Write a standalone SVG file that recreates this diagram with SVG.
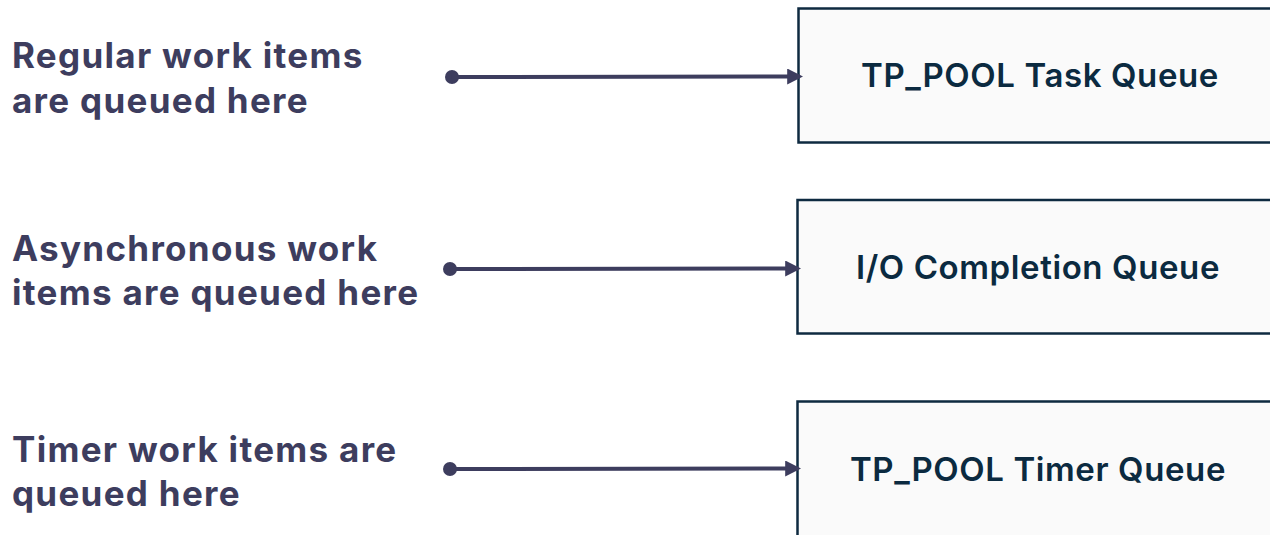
<svg xmlns="http://www.w3.org/2000/svg" width="1270" height="535" viewBox="0 0 1270 535">
<style>
.lbl{font-family:Inter,"Liberation Sans",sans-serif;font-weight:700;font-size:35px;fill:#3d3d5e;letter-spacing:1.3px}
.box{fill:#fafafa;stroke:#0e2a40;stroke-width:2.5}
.bt{font-family:Inter,"Liberation Sans",sans-serif;font-weight:600;font-size:33px;fill:#0b2a40;text-anchor:middle;letter-spacing:0.6px}
.con{stroke:#3d3d5e;stroke-width:4;fill:none}
</style>
<defs>
<marker id="ah" markerWidth="4" markerHeight="4" refX="3.2" refY="2" orient="auto" markerUnits="strokeWidth">
<path d="M0,0 L4,2 L0,4 Z" fill="#3d3d5e"/>
</marker>
</defs>
<rect width="1270" height="535" fill="#ffffff"/>
<g id="label1"><text class="lbl" x="12" y="68">Regular work items</text><text class="lbl" x="12" y="113">are queued here</text></g>
<g id="label2"><text class="lbl" x="12" y="261">Asynchronous work</text><text class="lbl" x="12" y="305">items are queued here</text></g>
<g id="label3"><text class="lbl" x="12" y="462">Timer work items are</text><text class="lbl" x="12" y="506">queued here</text></g>
<g id="node1"><rect class="box" x="798.5" y="8.5" width="480" height="134"/><text class="bt" x="1040" y="87">TP_POOL Task Queue</text></g>
<g id="node2"><rect class="box" x="797.5" y="200" width="480" height="133.5"/><text class="bt" x="1038" y="279">I/O Completion Queue</text></g>
<g id="node3"><rect class="box" x="797.5" y="401.5" width="480" height="150"/><text class="bt" x="1038" y="481">TP_POOL Timer Queue</text></g>
<g id="connectors">
<circle cx="452" cy="77" r="7" fill="#3d3d5e"/>
<line class="con" x1="452" y1="77" x2="800" y2="76.5" marker-end="url(#ah)"/>
<circle cx="450" cy="269" r="7" fill="#3d3d5e"/>
<line class="con" x1="450" y1="269" x2="798" y2="268.5" marker-end="url(#ah)"/>
<circle cx="450" cy="469" r="7" fill="#3d3d5e"/>
<line class="con" x1="450" y1="469" x2="798" y2="468.5" marker-end="url(#ah)"/>
</g>
</svg>
